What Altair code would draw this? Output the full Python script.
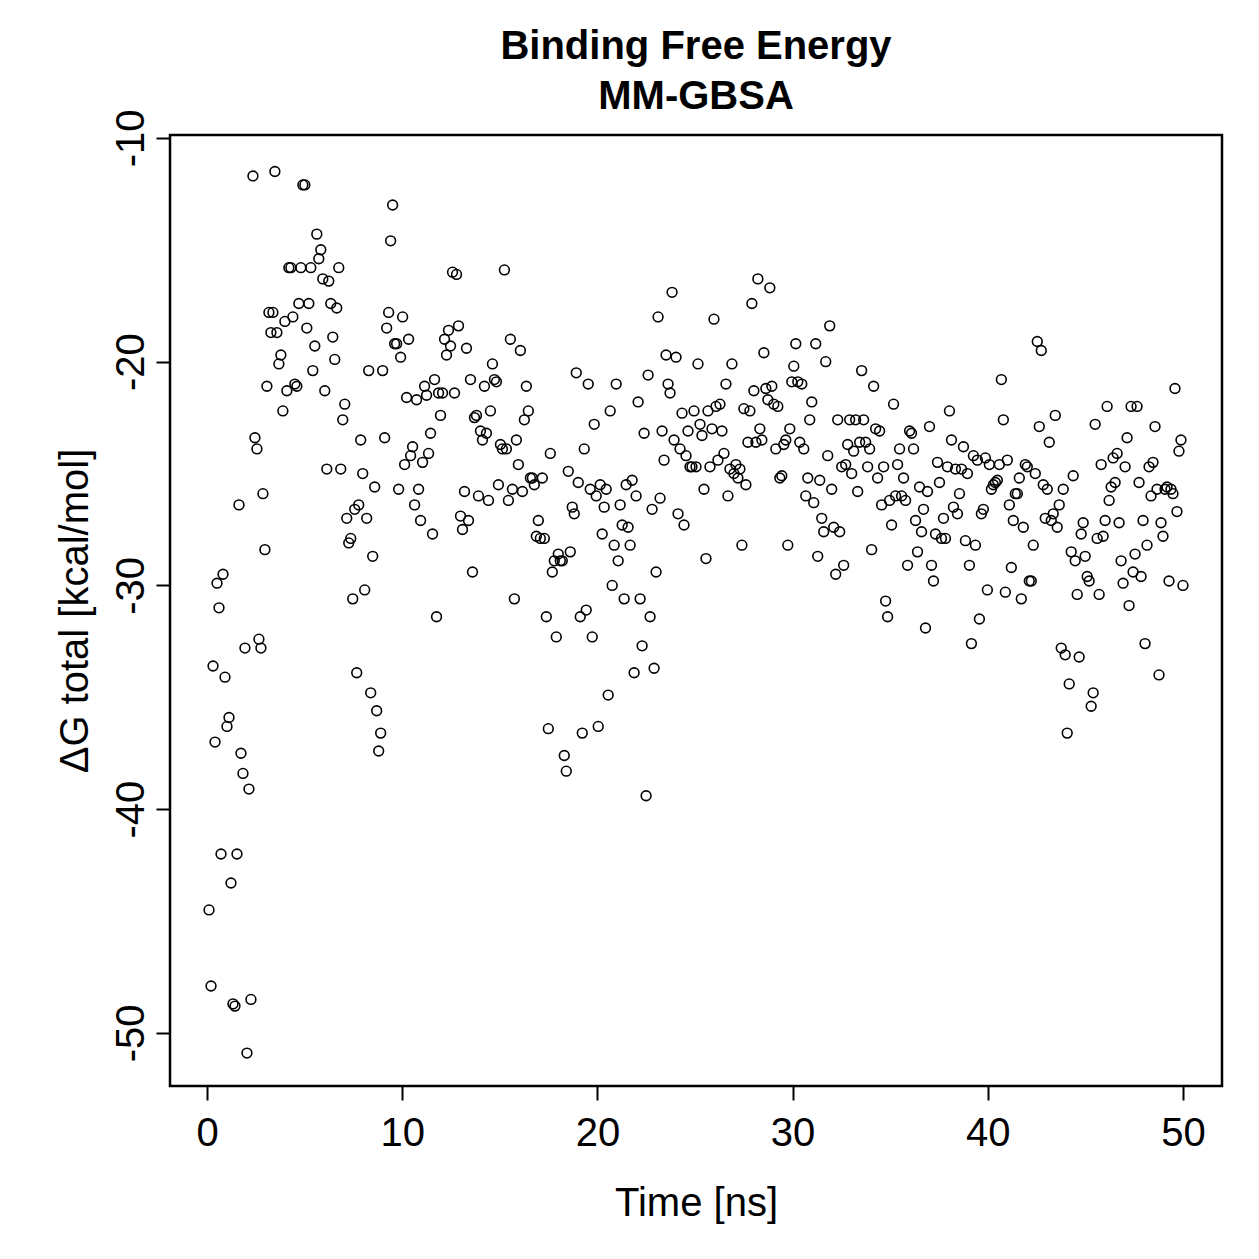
import altair as alt
import pandas as pd
import numpy as np

# ΔG total [kcal/mol] per frame in time order
dg_total = [
    -44.5, -47.9, -33.6, -37.0, -29.9, -31.0, -42.0, -29.5, -34.1, -36.3, -35.9, -43.3, -48.7, -48.8, -42.0,
    -26.4, -37.5, -38.4, -32.8, -50.9, -39.1, -48.5, -11.7, -23.4, -23.9, -32.4, -32.8, -25.9, -28.4, -21.1,
    -17.8, -18.7, -17.8, -11.5, -18.7, -20.1, -19.7, -22.2, -18.2, -21.3, -15.8, -15.8, -18.0, -21.0, -21.1,
    -17.4, -15.8, -12.1, -12.1, -18.5, -17.4, -15.8, -20.4, -19.3, -14.3, -15.4, -15.0, -16.3, -21.3, -24.8,
    -16.4, -17.4, -18.9, -19.9, -17.6, -15.8, -24.8, -22.6, -21.9, -27.0, -28.1, -27.9, -30.6, -26.6, -33.9,
    -26.4, -23.5, -25.0, -30.2, -27.0, -20.4, -34.8, -28.7, -25.6, -35.6, -37.4, -36.6, -20.4, -23.4, -18.5,
    -17.8, -14.6, -13.0, -19.2, -19.2, -25.7, -19.8, -18.0, -24.6, -21.6, -19.0, -24.2, -23.8, -26.4, -21.7,
    -25.7, -27.1, -24.5, -21.1, -21.5, -24.1, -23.2, -27.7, -20.8, -31.4, -21.4, -22.4, -21.4, -19.0, -19.7,
    -18.6, -19.3, -16.0, -21.4, -16.1, -18.4, -26.9, -27.5, -25.8, -19.4, -27.1, -20.8, -29.4, -22.5, -22.4,
    -26.0, -23.1, -23.5, -21.1, -23.2, -26.2, -22.2, -20.1, -20.8, -20.9, -25.5, -23.7, -23.9, -15.9, -23.9,
    -26.2, -19.0, -25.7, -30.6, -23.5, -24.6, -19.5, -25.8, -22.6, -21.1, -22.2, -25.2, -25.2, -25.5, -27.8,
    -27.1, -27.9, -25.2, -27.9, -31.4, -36.4, -24.1, -29.4, -28.9, -32.3, -28.6, -28.9, -28.9, -37.6, -38.3,
    -24.9, -28.5, -26.5, -26.8, -20.5, -25.4, -31.4, -36.6, -23.9, -31.1, -21.0, -25.7, -32.3, -22.8, -26.0,
    -36.3, -25.5, -27.7, -26.5, -25.7, -34.9, -22.2, -30.0, -28.2, -21.0, -28.9, -26.4, -27.3, -30.6, -25.5,
    -27.4, -28.2, -25.3, -33.9, -26.0, -21.8, -30.6, -32.7, -23.2, -39.4, -20.6, -31.4, -26.6, -33.7, -29.4,
    -18.0, -26.1, -23.1, -24.4, -19.7, -21.0, -21.4, -16.9, -23.5, -19.8, -26.8, -23.9, -22.3, -27.3, -24.2,
    -23.1, -24.7, -24.7, -22.2, -24.7, -20.1, -22.8, -23.3, -25.7, -28.8, -22.2, -24.7, -23.0, -18.1, -22.0,
    -24.4, -21.9, -23.1, -24.1, -21.0, -26.0, -24.8, -20.1, -25.0, -24.6, -25.2, -24.8, -28.2, -22.1, -25.5,
    -23.6, -22.2, -17.4, -21.3, -23.6, -16.3, -23.0, -23.5, -19.6, -21.2, -21.7, -16.7, -21.1, -21.9, -23.9,
    -22.0, -25.2, -25.1, -23.7, -23.5, -28.2, -23.0, -20.9, -20.2, -19.2, -20.9, -23.6, -21.0, -23.9, -26.0,
    -25.2, -22.6, -21.8, -26.3, -19.2, -28.7, -25.3, -27.0, -27.6, -20.0, -24.2, -18.4, -25.7, -27.4, -29.5,
    -22.6, -27.6, -24.7, -29.1, -24.6, -23.7, -22.6, -25.0, -24.0, -22.6, -25.8, -23.6, -20.4, -22.6, -23.6,
    -24.7, -23.9, -28.4, -21.1, -23.0, -25.2, -23.1, -26.4, -24.7, -30.7, -31.4, -26.2, -27.3, -21.9, -26.0,
    -24.6, -23.9, -26.0, -25.2, -26.2, -29.1, -23.1, -23.2, -23.9, -27.1, -28.5, -25.6, -27.6, -26.6, -31.9,
    -25.8, -22.9, -29.1, -29.8, -27.7, -24.5, -25.4, -27.9, -27.0, -27.9, -24.7, -22.2, -23.5, -26.5, -24.8,
    -26.8, -25.9, -24.8, -23.8, -28.0, -25.0, -29.1, -32.6, -24.2, -28.2, -24.4, -31.5, -26.8, -26.6, -24.3,
    -30.2, -24.6, -25.7, -25.5, -25.4, -25.3, -24.6, -20.8, -22.6, -30.3, -24.4, -26.4, -29.2, -27.1, -25.9,
    -25.9, -25.2, -30.6, -27.4, -24.6, -24.7, -29.8, -29.8, -28.2, -25.0, -19.1, -22.9, -19.5, -25.5, -27.0,
    -25.7, -23.6, -27.1, -26.8, -22.4, -27.4, -26.4, -32.8, -25.7, -33.1, -36.6, -34.4, -28.5, -25.1, -28.9,
    -30.4, -33.2, -27.7, -27.2, -28.7, -29.6, -29.8, -35.4, -34.8, -22.8, -27.9, -30.4, -24.6, -27.8, -27.1,
    -22.0, -26.2, -25.6, -24.3, -25.4, -24.1, -27.2, -28.9, -29.9, -24.7, -23.4, -30.9, -22.0, -29.4, -28.6,
    -22.0, -25.4, -29.6, -27.1, -32.6, -28.2, -24.7, -26.0, -24.5, -22.9, -25.7, -34.0, -27.2, -27.8, -25.7,
    -25.6, -29.8, -25.7, -25.9, -21.2, -26.7, -24.0, -23.5, -30.0,
]
# frames are evenly spaced in simulation time, from 0.1 ns to 50 ns
time_ns = np.linspace(0.1, 50.0, len(dg_total)).round(3)

x_ticks = [0, 10, 20, 30, 40, 50]
y_ticks = [-10, -20, -30, -40, -50]

df = pd.DataFrame({"time": time_ns, "dg": dg_total})

FONT = "Liberation Sans"
FS = 40

chart = alt.Chart(df).mark_point(
    shape="circle", filled=False, color="black", size=95, strokeWidth=1.6, opacity=1
).encode(
    x=alt.X("time:Q",
            scale=alt.Scale(domain=[-1.9, 52.0], nice=False, zero=False),
            axis=alt.Axis(values=x_ticks, title="Time [ns]", grid=False, domain=False,
                          tickSize=14, tickWidth=2, tickColor="black",
                          labelFontSize=FS, labelFont=FONT, labelColor="black", labelPadding=13,
                          titleFontSize=FS, titleFont=FONT, titleFontWeight="normal",
                          titleColor="black", titlePadding=30)),
    y=alt.Y("dg:Q",
            scale=alt.Scale(domain=[-52.37, -9.87], nice=False, zero=False),
            axis=alt.Axis(values=y_ticks, title="ΔG total [kcal/mol]", grid=False, domain=False,
                          tickSize=14, tickWidth=2, tickColor="black",
                          labelExpr="datum.value < 0 ? '-' + abs(datum.value) : '' + datum.value",
                          labelFontSize=FS, labelFont=FONT, labelColor="black", labelPadding=5,
                          labelAngle=270, labelAlign="center", labelBaseline="bottom",
                          titleFontSize=FS, titleFont=FONT, titleFontWeight="normal",
                          titleColor="black", titlePadding=16)),
).properties(
    width=1052,
    height=951,
    title=alt.TitleParams(text=["Binding Free Energy", "MM-GBSA"], font=FONT, fontSize=FS,
                          fontWeight="bold", color="black", anchor="middle", frame="group",
                          lineHeight=50, offset=0, dy=8),
    autosize=alt.AutoSizeParams(type="none"),
    padding={"left": 170, "top": 135, "right": 37, "bottom": 173},
    background="white",
).configure_view(
    stroke="black", strokeWidth=2.5
)

chart.save("out.html", embed_options={"renderer": "svg", "actions": False})
